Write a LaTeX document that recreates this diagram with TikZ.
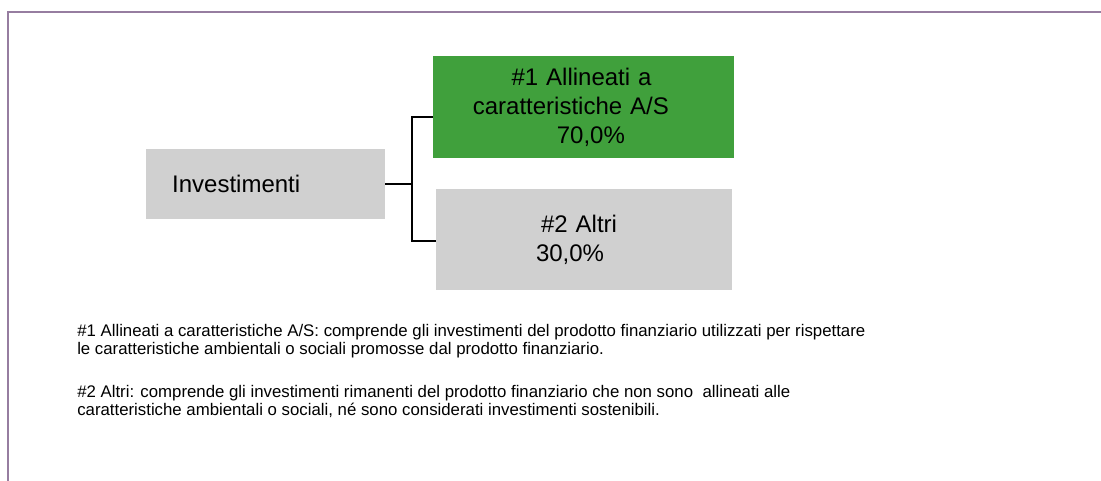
\documentclass[tikz,border=0pt]{standalone}
\usepackage{fontspec}
\setmainfont{Liberation Sans}
\definecolor{boxgreen}{RGB}{64,160,60}
\definecolor{boxgray}{RGB}{208,208,208}
\definecolor{framecol}{RGB}{150,125,160}
\begin{document}
\begin{tikzpicture}[x=0.75pt,y=-0.75pt,
    box/.style={fill=boxgray,inner sep=0pt,align=left,font=\fontsize{18}{21.75}\selectfont},
    greenbox/.style={box,fill=boxgreen},
    note/.style={anchor=north west,inner sep=0pt,align=left,font=\fontsize{12.6}{13.2}\selectfont}]
      \useasboundingbox (0,0) rectangle (1101,481);
      \draw[framecol,line width=1.2pt] (8,481) -- (8,12) -- (1101,12);
      \draw
        (265.5,184) node[box,minimum width=179.25pt,minimum height=52.5pt,text width=140pt] (inv){Investimenti}
        (583.5,107) node[greenbox,minimum width=225.75pt,minimum height=76.5pt,text width=166pt] (al){\hspace*{29pt}\#1 Allineati a\\caratteristiche A/S\\\hspace*{63pt}70,0\%}
        (584,239.5) node[box,minimum width=222pt,minimum height=75.75pt,text width=72pt] (ot){\hspace*{3.75pt}\#2 Altri\\30,0\%};
      \coordinate (fork) at (412,184);
      \begin{scope}[line width=2pt]
        \draw (inv.east) -- (fork);
        \draw (fork) |- ([yshift=-7.5pt]al.west);
        \draw (fork) |- ([yshift=-1.1pt]ot.west);
      \end{scope}
      \node[note] (n1) at (77,324) {\#1 Allineati a caratteristiche A/S: comprende gli investimenti del prodotto finanziario utilizzati per rispettare\\le caratteristiche ambientali o sociali promosse dal prodotto finanziario.};
      \node[note] (n2) at (77,385) {\#2 Altri: comprende gli investimenti rimanenti del prodotto finanziario che non sono\ \ allineati alle\\caratteristiche ambientali o sociali, né sono considerati investimenti sostenibili.};
\end{tikzpicture}
\end{document}
